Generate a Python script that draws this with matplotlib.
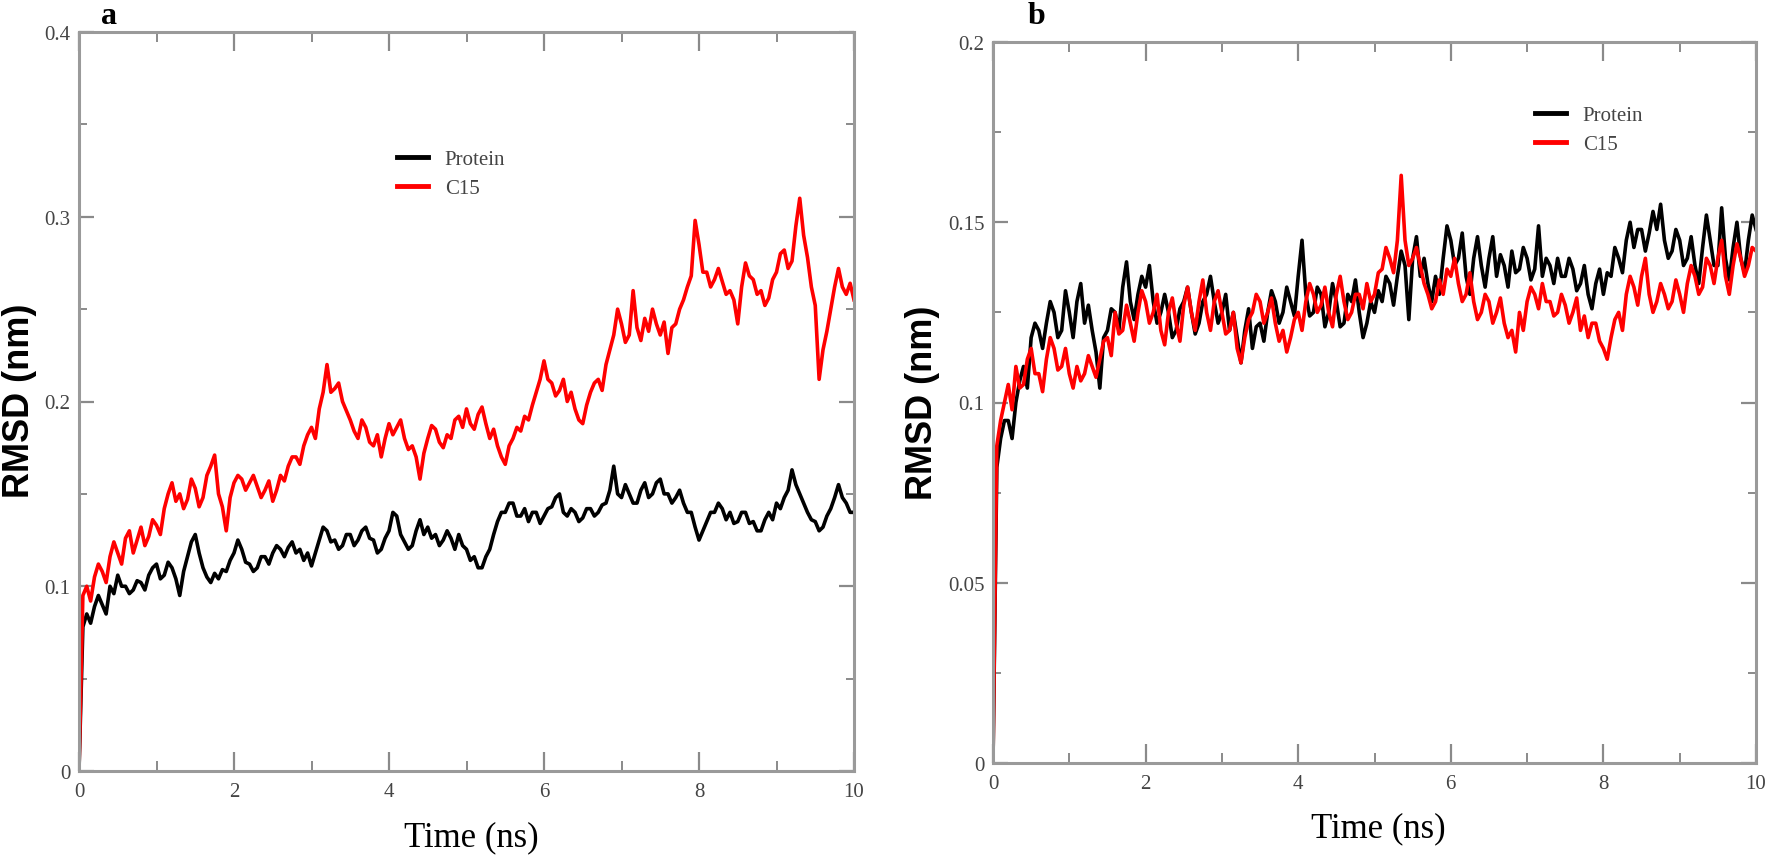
import numpy as np
import matplotlib
matplotlib.use('Agg')
import matplotlib.pyplot as plt
from matplotlib.ticker import MultipleLocator

plt.rcParams['font.family'] = ['Liberation Serif', 'DejaVu Serif']

# ---------------- data (RMSD in nm, sampled every 0.05 ns from 0 to 10 ns) ----------------
protein_a = [
    0.0, 0.078, 0.085, 0.080, 0.089, 0.095, 0.090, 0.085, 0.100, 0.096,
    0.106, 0.100, 0.100, 0.096, 0.098, 0.103, 0.102, 0.098, 0.106, 0.110,
    0.112, 0.104, 0.106, 0.113, 0.110, 0.104, 0.095, 0.108, 0.116, 0.124,
    0.128, 0.118, 0.110, 0.105, 0.102, 0.107, 0.104, 0.109, 0.108, 0.114,
    0.118, 0.125, 0.120, 0.113, 0.112, 0.108, 0.110, 0.116, 0.116, 0.112,
    0.118, 0.122, 0.120, 0.116, 0.121, 0.124, 0.118, 0.120, 0.114, 0.118,
    0.111, 0.118, 0.125, 0.132, 0.130, 0.124, 0.125, 0.120, 0.122, 0.128,
    0.128, 0.122, 0.125, 0.130, 0.132, 0.126, 0.125, 0.118, 0.120, 0.126,
    0.130, 0.140, 0.138, 0.128, 0.124, 0.120, 0.122, 0.130, 0.136, 0.128,
    0.132, 0.126, 0.128, 0.122, 0.125, 0.130, 0.126, 0.120, 0.128, 0.122,
    0.120, 0.114, 0.116, 0.110, 0.110, 0.116, 0.120, 0.128, 0.135, 0.140,
    0.140, 0.145, 0.145, 0.138, 0.138, 0.142, 0.135, 0.140, 0.140, 0.134,
    0.138, 0.142, 0.143, 0.148, 0.150, 0.140, 0.138, 0.142, 0.140, 0.135,
    0.137, 0.142, 0.142, 0.138, 0.140, 0.144, 0.145, 0.152, 0.165, 0.150,
    0.148, 0.155, 0.150, 0.145, 0.145, 0.152, 0.156, 0.148, 0.150, 0.156,
    0.158, 0.150, 0.150, 0.145, 0.148, 0.152, 0.145, 0.140, 0.140, 0.132,
    0.125, 0.130, 0.135, 0.140, 0.140, 0.145, 0.142, 0.136, 0.140, 0.134,
    0.135, 0.140, 0.140, 0.134, 0.135, 0.130, 0.130, 0.136, 0.140, 0.136,
    0.145, 0.142, 0.148, 0.152, 0.163, 0.155, 0.150, 0.145, 0.140, 0.136,
    0.135, 0.130, 0.132, 0.138, 0.142, 0.148, 0.155, 0.148, 0.145, 0.140,
    0.140,
]

c15_a = [
    0.0, 0.095, 0.100, 0.092, 0.105, 0.112, 0.108, 0.102, 0.116, 0.124,
    0.118, 0.112, 0.126, 0.130, 0.118, 0.125, 0.132, 0.122, 0.127, 0.136,
    0.133, 0.128, 0.142, 0.150, 0.156, 0.146, 0.150, 0.142, 0.147, 0.158,
    0.153, 0.143, 0.148, 0.160, 0.165, 0.171, 0.150, 0.143, 0.130, 0.148,
    0.156, 0.160, 0.158, 0.152, 0.156, 0.160, 0.154, 0.148, 0.152, 0.157,
    0.146, 0.152, 0.160, 0.157, 0.165, 0.170, 0.170, 0.166, 0.176, 0.182,
    0.186, 0.180, 0.196, 0.205, 0.220, 0.205, 0.207, 0.210, 0.200, 0.195,
    0.190, 0.184, 0.180, 0.190, 0.186, 0.178, 0.176, 0.182, 0.170, 0.180,
    0.188, 0.182, 0.186, 0.190, 0.180, 0.174, 0.176, 0.170, 0.158, 0.172,
    0.180, 0.187, 0.185, 0.178, 0.175, 0.182, 0.180, 0.190, 0.192, 0.186,
    0.196, 0.188, 0.185, 0.193, 0.197, 0.188, 0.180, 0.185, 0.176, 0.170,
    0.166, 0.176, 0.180, 0.186, 0.184, 0.192, 0.190, 0.198, 0.205, 0.212,
    0.222, 0.212, 0.210, 0.203, 0.206, 0.212, 0.200, 0.205, 0.196, 0.190,
    0.188, 0.198, 0.205, 0.210, 0.212, 0.206, 0.220, 0.228, 0.236, 0.250,
    0.242, 0.232, 0.236, 0.260, 0.240, 0.233, 0.245, 0.238, 0.250, 0.242,
    0.236, 0.243, 0.226, 0.240, 0.242, 0.250, 0.255, 0.262, 0.268, 0.298,
    0.285, 0.270, 0.270, 0.262, 0.266, 0.272, 0.265, 0.258, 0.260, 0.255,
    0.242, 0.262, 0.275, 0.268, 0.266, 0.258, 0.260, 0.252, 0.256, 0.266,
    0.270, 0.280, 0.282, 0.272, 0.276, 0.295, 0.310, 0.290, 0.278, 0.262,
    0.252, 0.212, 0.228, 0.238, 0.250, 0.262, 0.272, 0.262, 0.258, 0.264,
    0.255,
]

protein_b = [
    0.0, 0.082, 0.090, 0.095, 0.095, 0.090, 0.100, 0.106, 0.110, 0.104,
    0.118, 0.122, 0.120, 0.115, 0.122, 0.128, 0.125, 0.118, 0.120, 0.131,
    0.125, 0.118, 0.128, 0.133, 0.122, 0.127, 0.120, 0.114, 0.104, 0.118,
    0.120, 0.126, 0.125, 0.120, 0.132, 0.139, 0.128, 0.123, 0.130, 0.135,
    0.132, 0.138, 0.128, 0.122, 0.125, 0.130, 0.125, 0.118, 0.120, 0.126,
    0.128, 0.132, 0.125, 0.119, 0.122, 0.128, 0.130, 0.135, 0.128, 0.122,
    0.125, 0.130, 0.120, 0.125, 0.118, 0.111, 0.120, 0.126, 0.115, 0.121,
    0.122, 0.117, 0.125, 0.131, 0.128, 0.122, 0.125, 0.132, 0.128, 0.124,
    0.135, 0.145, 0.130, 0.124, 0.125, 0.132, 0.130, 0.121, 0.125, 0.133,
    0.128, 0.121, 0.122, 0.130, 0.128, 0.134, 0.125, 0.118, 0.122, 0.128,
    0.125, 0.131, 0.128, 0.135, 0.133, 0.127, 0.135, 0.142, 0.138, 0.123,
    0.140, 0.146, 0.135, 0.140, 0.133, 0.128, 0.135, 0.130, 0.140, 0.149,
    0.145, 0.138, 0.140, 0.147, 0.135, 0.130, 0.140, 0.146, 0.138, 0.132,
    0.140, 0.146, 0.135, 0.141, 0.138, 0.132, 0.142, 0.136, 0.137, 0.143,
    0.140, 0.134, 0.137, 0.149, 0.135, 0.140, 0.138, 0.133, 0.140, 0.135,
    0.135, 0.140, 0.137, 0.131, 0.133, 0.138, 0.130, 0.126, 0.133, 0.137,
    0.130, 0.136, 0.135, 0.143, 0.140, 0.136, 0.145, 0.150, 0.143, 0.148,
    0.148, 0.142, 0.147, 0.153, 0.148, 0.155, 0.145, 0.140, 0.142, 0.148,
    0.145, 0.138, 0.140, 0.146, 0.138, 0.133, 0.143, 0.152, 0.145, 0.138,
    0.138, 0.154, 0.140, 0.134, 0.143, 0.150, 0.140, 0.136, 0.145, 0.152,
    0.148,
]

c15_b = [
    0.0, 0.088, 0.095, 0.100, 0.105, 0.098, 0.110, 0.104, 0.105, 0.112,
    0.115, 0.108, 0.108, 0.103, 0.112, 0.118, 0.115, 0.109, 0.110, 0.115,
    0.108, 0.104, 0.110, 0.106, 0.108, 0.113, 0.110, 0.107, 0.112, 0.117,
    0.118, 0.113, 0.125, 0.119, 0.120, 0.127, 0.122, 0.117, 0.125, 0.131,
    0.128, 0.122, 0.125, 0.130, 0.120, 0.116, 0.125, 0.129, 0.122, 0.117,
    0.127, 0.132, 0.125, 0.120, 0.128, 0.134, 0.125, 0.120, 0.128, 0.131,
    0.125, 0.119, 0.120, 0.125, 0.115, 0.111, 0.118, 0.123, 0.125, 0.130,
    0.128, 0.122, 0.125, 0.129, 0.122, 0.117, 0.120, 0.114, 0.118, 0.123,
    0.125, 0.120, 0.128, 0.133, 0.130, 0.125, 0.127, 0.132, 0.125, 0.121,
    0.130, 0.135, 0.128, 0.123, 0.125, 0.130, 0.130, 0.126, 0.133, 0.128,
    0.130, 0.136, 0.137, 0.143, 0.140, 0.136, 0.145, 0.163, 0.145, 0.138,
    0.140, 0.143, 0.138, 0.133, 0.130, 0.126, 0.128, 0.134, 0.130, 0.137,
    0.135, 0.140, 0.133, 0.128, 0.130, 0.136, 0.128, 0.123, 0.125, 0.130,
    0.128, 0.122, 0.125, 0.129, 0.122, 0.118, 0.120, 0.114, 0.125, 0.120,
    0.128, 0.132, 0.130, 0.126, 0.133, 0.128, 0.128, 0.124, 0.125, 0.130,
    0.127, 0.122, 0.125, 0.129, 0.120, 0.124, 0.118, 0.122, 0.122, 0.117,
    0.115, 0.112, 0.118, 0.123, 0.125, 0.120, 0.130, 0.135, 0.132, 0.127,
    0.135, 0.140, 0.130, 0.125, 0.128, 0.133, 0.130, 0.126, 0.128, 0.134,
    0.130, 0.125, 0.133, 0.138, 0.135, 0.130, 0.132, 0.140, 0.138, 0.133,
    0.140, 0.145, 0.135, 0.130, 0.138, 0.144, 0.140, 0.135, 0.138, 0.143,
    0.142,
]

series_names = ['Protein', 'C15']
x_ticks = [0, 2, 4, 6, 8, 10]
x_ticklabels = ['0', '2', '4', '6', '8', '10']
ya_ticks = [0, 0.1, 0.2, 0.3, 0.4]
ya_ticklabels = ['0', '0.1', '0.2', '0.3', '0.4']
yb_ticks = [0, 0.05, 0.1, 0.15, 0.2]
yb_ticklabels = ['0', '0.05', '0.1', '0.15', '0.2']

# ---------------- figure ----------------
W, H = 1773, 862
fig = plt.figure(figsize=(W / 100, H / 100), dpi=100)


def px_rect(l, t, r, b):
    return [l / W, 1 - b / H, (r - l) / W, (b - t) / H]


axa = fig.add_axes(px_rect(79, 33, 854, 772))
axb = fig.add_axes(px_rect(993, 43, 1756, 764))

GREY_SPINE = '#9a9a9a'
GREY_TEXT = '#444444'


def style(ax, yticks, yticklabels, yminor):
    ax.set_xlim(0, 10)
    ax.set_ylim(yticks[0], yticks[-1])
    ax.set_xticks(x_ticks)
    ax.set_xticklabels(x_ticklabels)
    ax.xaxis.set_minor_locator(MultipleLocator(1))
    ax.set_yticks(yticks)
    ax.set_yticklabels(yticklabels)
    ax.yaxis.set_minor_locator(MultipleLocator(yminor))
    ax.tick_params(which='both', direction='in', top=True, right=True,
                   color='#8a8a8a', labelcolor=GREY_TEXT, labelsize=15)
    ax.tick_params(axis='x', which='major', length=14, width=1.6, pad=8)
    ax.tick_params(axis='x', which='minor', length=7, width=1.4)
    ax.tick_params(axis='y', which='major', length=11, width=1.6, pad=6)
    ax.tick_params(axis='y', which='minor', length=6, width=1.4)
    for s in ax.spines.values():
        s.set_color(GREY_SPINE)
        s.set_linewidth(2.2)


style(axa, ya_ticks, ya_ticklabels, 0.05)
style(axb, yb_ticks, yb_ticklabels, 0.025)

for ax, prot, c15 in [(axa, protein_a, c15_a), (axb, protein_b, c15_b)]:
    tp = np.linspace(0, 10, len(prot))
    tc = np.linspace(0, 10, len(c15))
    ax.plot(tp, prot, color='black', lw=2.6, label=series_names[0])
    ax.plot(tc, c15, color='#ff0000', lw=2.6, label=series_names[1])

for ax, anchor in [(axa, (0.410, 0.808)), (axb, (0.710, 0.878))]:
    leg = ax.legend(loc='center left', bbox_to_anchor=anchor, frameon=False,
                    fontsize=15, handlelength=1.5, handletextpad=0.8,
                    labelspacing=0.45, borderpad=0, borderaxespad=0)
    for txt in leg.get_texts():
        txt.set_color(GREY_TEXT)
    for ln in leg.get_lines():
        ln.set_linewidth(3.5)

# axis titles
fig.text(471 / W, 1 - 838 / H, 'Time (ns)', ha='center', va='center', fontsize=25)
fig.text(1378 / W, 1 - 829 / H, 'Time (ns)', ha='center', va='center', fontsize=25)
fig.text(20 / W, 1 - 401 / H, 'RMSD (nm)', ha='center', va='center', rotation=90,
         fontsize=26, fontweight='bold', family=['Liberation Sans', 'DejaVu Sans'])
fig.text(922 / W, 1 - 403 / H, 'RMSD (nm)', ha='center', va='center', rotation=90,
         fontsize=26, fontweight='bold', family=['Liberation Sans', 'DejaVu Sans'])

# panel letters
fig.text(109 / W, 1 - 2 / H, 'a', ha='center', va='top', fontsize=23, fontweight='bold')
fig.text(1036 / W, 1 - 2 / H, 'b', ha='center', va='top', fontsize=23, fontweight='bold')

fig.savefig('out.png', dpi=100)
